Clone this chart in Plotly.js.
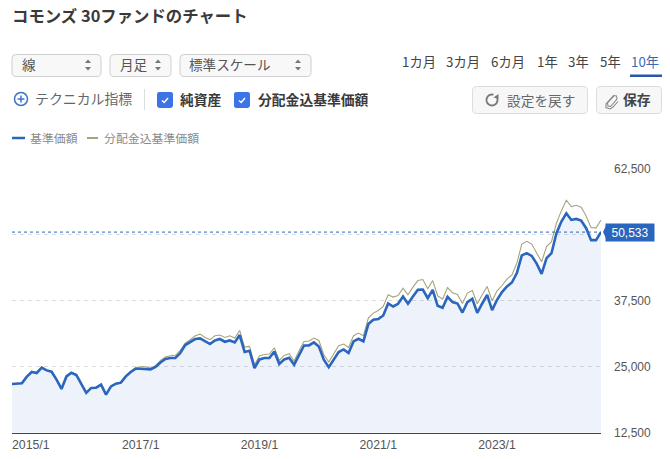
<!DOCTYPE html>
<html><head><meta charset="utf-8">
<script src="https://cdn.plot.ly/plotly-3.0.1.min.js"></script>
<style>html,body{margin:0;padding:0;background:#fff}#c{width:670px;height:459px}</style>
</head><body><div id="c"></div>
<script>
var startYear = 2014, startMonth = 11;
var baseValues = [21720,21720,21840,23110,24000,23810,24810,24300,24050,22540,20780,23160,23860,23430,21720,20020,20970,21020,21590,19700,21270,21780,21970,23160,24000,24620,24620,24620,24490,24940,25810,26460,26650,26650,27590,29110,29680,30250,30360,29790,29300,29980,30250,29730,29980,29600,31000,27780,28030,24750,26380,26650,26650,27900,25510,26380,26700,25380,27270,29030,29030,29600,28840,26330,24900,26330,27780,28280,27590,29790,30300,29790,33090,33900,34030,34720,36990,36420,36930,38310,36930,38310,39580,39640,38010,39580,36550,36170,38260,37250,36990,35280,37250,37880,35230,36990,38640,35740,37690,39150,40210,40970,42750,46120,46550,46020,44560,42610,45590,46530,50320,52520,54110,52840,53030,52710,51270,49000,49000,50533];
var adjustedValues = [21780,21780,21900,23170,24060,23870,24870,24360,24110,22600,20840,23220,23920,23490,21780,20080,21030,21080,21650,19760,21330,21840,22060,23290,24150,24850,25000,25000,24740,25190,26190,26840,27090,27160,28100,29490,30120,30875,31175,30550,30115,30870,31010,30550,30870,30440,31870,28730,28840,25380,27080,27330,27410,28600,26190,27140,27460,26080,28030,29790,29870,30440,29980,27270,25890,27410,28980,29300,28660,30870,31380,30870,34220,35170,35660,36420,38640,38200,38500,39900,38640,40090,41340,41530,39770,41340,38450,37820,40020,39010,38690,36990,38960,39450,36930,38640,40210,37500,39390,40400,41610,42420,44640,48260,48770,48260,46630,44890,47780,48730,52220,54600,56570,55360,55620,55240,53600,51380,51330,52840];
var yTicks = [12500,25000,37500,50000,62500];
var yTickLabels = ['12,500','25,000','37,500','','62,500'];
var xTickLabels = ['2017/1','2019/1','2021/1','2023/1'];
var firstTickLabel = '2015/1';
var latestValue = 50533;
var seriesNames = ['基準価額','分配金込基準価額'];
var periodLabels = ['1カ月','3カ月','6カ月','1年','3年','5年','10年'];

var months = baseValues.map(function(_, i){
  var m = startMonth - 1 + i;
  return (startYear + Math.floor(m/12)) + '/' + (m%12 + 1);
});

var W = 670, H = 459;
var JP = '"Noto Sans CJK JP","Noto Sans",sans-serif';
var LAT = '"Liberation Sans",Arial,sans-serif';
var BLUE = '#2a66bd', OLIVE = '#a6a37c';
function px(x){return (x/W).toFixed(5);}
function py(y){return (1-y/H).toFixed(5);}
function poly(pts,close){
  return pts.map(function(p,i){return (i?'L':'M')+px(p[0])+' '+py(p[1]);}).join(' ')+(close?' Z':'');
}
function rrect(x0,y0,x1,y1,r){
  var q=function(a,b,c,d){return 'Q'+px(a)+' '+py(b)+' '+px(c)+' '+py(d);};
  return 'M'+px(x0+r)+' '+py(y0)+' L'+px(x1-r)+' '+py(y0)+' '+q(x1,y0,x1,y0+r)+' L'+px(x1)+' '+py(y1-r)+' '+q(x1,y1,x1-r,y1)+
    ' L'+px(x0+r)+' '+py(y1)+' '+q(x0,y1,x0,y1-r)+' L'+px(x0)+' '+py(y0+r)+' '+q(x0,y0,x0+r,y0)+' Z';
}
function arc(cx,cy,r,a0,a1){
  var p=[];for(var i=0;i<=24;i++){var a=(a0+(a1-a0)*i/24)*Math.PI/180;p.push([cx+r*Math.cos(a),cy+r*Math.sin(a)]);}
  return p;
}
var shapes=[], ann=[];
function pathShape(path,fill,line,w){shapes.push({type:'path',xref:'paper',yref:'paper',path:path,fillcolor:fill||'rgba(0,0,0,0)',line:{color:line||'rgba(0,0,0,0)',width:w===undefined?1:w}});}
function text(t,x,y,size,color,bold,anchor,fam){
  ann.push({xref:'paper',yref:'paper',x:x/W,y:1-(y-0.8)/H,text:bold?'<b>'+t+'</b>':t,showarrow:false,xanchor:anchor||'left',yanchor:'middle',
    font:{family:fam||JP,size:size,color:color},borderpad:0,borderwidth:0});
}

// header
text('コモンズ 30ファンドのチャート',12,16,16.4,'#3a3a3a',true);

// dropdowns
[[12,101,'線',22,88],[110,171,'月足',120,158],[180,311,'標準スケール',189,298]].forEach(function(d){
  pathShape(rrect(d[0],54.5,d[1],76.5,4),'#f8f8f8','#cfcfcf',1);
  text(d[2],d[3],65,13.6,'#555');
  pathShape(poly([[d[4]-3,63],[d[4]+3,63],[d[4],59.5]],true),'#777');
  pathShape(poly([[d[4]-3,67],[d[4]+3,67],[d[4],70.5]],true),'#777');
});

// period selector
var periodX=[402,446,491,537,568,600,631];
periodLabels.forEach(function(t,i){text(t,periodX[i],62,13.3,i===6?'#3a69b0':'#444');});
shapes.push({type:'rect',xref:'paper',yref:'paper',x0:630/W,x1:662/W,y0:1-77/H,y1:1-74.5/H,fillcolor:'#2a56a8',line:{width:0}});

// second row
shapes.push({type:'circle',xref:'paper',yref:'paper',x0:14.5/W,x1:27.5/W,y0:1-105.5/H,y1:1-92.5/H,line:{color:'#3d74c4',width:1.5},fillcolor:'#fff'});
pathShape(poly([[17.5,99],[24.5,99]]),null,'#3d74c4',1.5);
pathShape(poly([[21,95.5],[21,102.5]]),null,'#3d74c4',1.5);
text('テクニカル指標',35,98.5,13.9,'#666');
pathShape(poly([[144.5,89],[144.5,110]]),null,'#dddddd',1);
[[157,'純資産',180],[234,'分配金込基準価額',258]].forEach(function(c){
  pathShape(rrect(c[0],92,c[0]+16,108,2.5),'#3b74e6');
  pathShape(poly([[c[0]+5,100.5],[c[0]+7.2,102.5],[c[0]+11,98]]),null,'#fff',1.5);
  text(c[1],c[2],100,13.8,'#3a3a3a',true);
});

// buttons
pathShape(rrect(472.5,86.5,587.5,113.5,4),'#f7f7f7','#dcdcdc',1);
pathShape(rrect(596.5,86.5,661.5,113.5,4),'#f7f7f7','#dcdcdc',1);
pathShape(poly(arc(492,100,5.5,-20,285)),null,'#777',1.8);
pathShape(poly([[498.5,94],[498.5,99],[493.5,97.5]],true),'#777');
text('設定を戻す',507,100.5,13.7,'#666');
pathShape(poly([[614,96],[607.5,103],[608,106],[610.5,106.5],[617,99],[616.5,96],[613.5,95.5],[606,104],[606,107.5],[610,109],[613,107],[618,101.5]]),null,'#888',1.1);
text('保存',623,100,13.8,'#444',true);

// custom series key
pathShape(poly([[12,138],[25,138]]),null,BLUE,2.5);
text(seriesNames[0],30,138,11.9,'#8a8a8a');
pathShape(poly([[87,138],[98,138]]),null,OLIVE,2);
text(seriesNames[1],104,138,11.9,'#8a8a8a');

// latest value line and tag
shapes.push({type:'line',xref:'paper',yref:'y',x0:12/W,x1:601/W,y0:latestValue,y1:latestValue,line:{color:BLUE,width:1,dash:'3px,3px'}});
shapes.push({type:'path',xref:'paper',yref:'y',xsizemode:'pixel',ysizemode:'pixel',xanchor:603/W,yanchor:latestValue,
  path:'M 0 0 L 4 8.5 L 4 -8.5 Z',fillcolor:BLUE,line:{width:0}});
ann.push({xref:'paper',yref:'y',x:630/W,y:latestValue,text:latestValue.toLocaleString('en-US'),showarrow:false,xanchor:'center',yanchor:'middle',
  bgcolor:BLUE,width:48,height:17,borderpad:0,font:{family:LAT,size:12,color:'#fff'}});

// first tick label stays inside the plot's left edge
ann.push({xref:'x',yref:'paper',x:months.indexOf('2015/1'),y:1-445/H,text:firstTickLabel,showarrow:false,xanchor:'left',yanchor:'middle',xshift:-12,
  font:{family:LAT,size:12.3,color:'#555'}});

var traces=[
 {type:'scatter',mode:'lines',name:seriesNames[1],x:months,y:adjustedValues,line:{color:OLIVE,width:1.1},hoverinfo:'skip'},
 {type:'scatter',mode:'lines',name:seriesNames[0],x:months,y:baseValues,line:{color:BLUE,width:2.6},fill:'tozeroy',fillcolor:'rgba(60,115,210,0.085)',hoverinfo:'skip'}
];
var layout={
  width:W,height:H,margin:{l:0,r:0,t:0,b:0,pad:0},paper_bgcolor:'#fff',plot_bgcolor:'#fff',showlegend:false,hovermode:false,
  xaxis:{type:'category',domain:[12/W,601/W],range:[0,months.length-1],tickmode:'array',tickvals:xTickLabels,ticktext:xTickLabels,
    showgrid:false,zeroline:false,showline:true,linecolor:'#444',linewidth:1.2,ticks:'',ticklen:0,
    tickfont:{family:LAT,size:12.3,color:'#555'},automargin:false},
  yaxis:{domain:[1-432.6/H,1-169/H],range:[12500,62500],side:'right',tickmode:'array',tickvals:yTicks,ticktext:yTickLabels,
    showgrid:true,gridcolor:'#dcdcdc',griddash:'4px,4px',gridwidth:1,zeroline:false,showline:false,ticks:'',
    ticklabelstandoff:12,tickfont:{family:LAT,size:12,color:'#555'},automargin:false},
  shapes:shapes,annotations:ann,font:{family:JP}
};
Plotly.newPlot('c',traces,layout,{displayModeBar:false,staticPlot:true});
</script></body></html>
